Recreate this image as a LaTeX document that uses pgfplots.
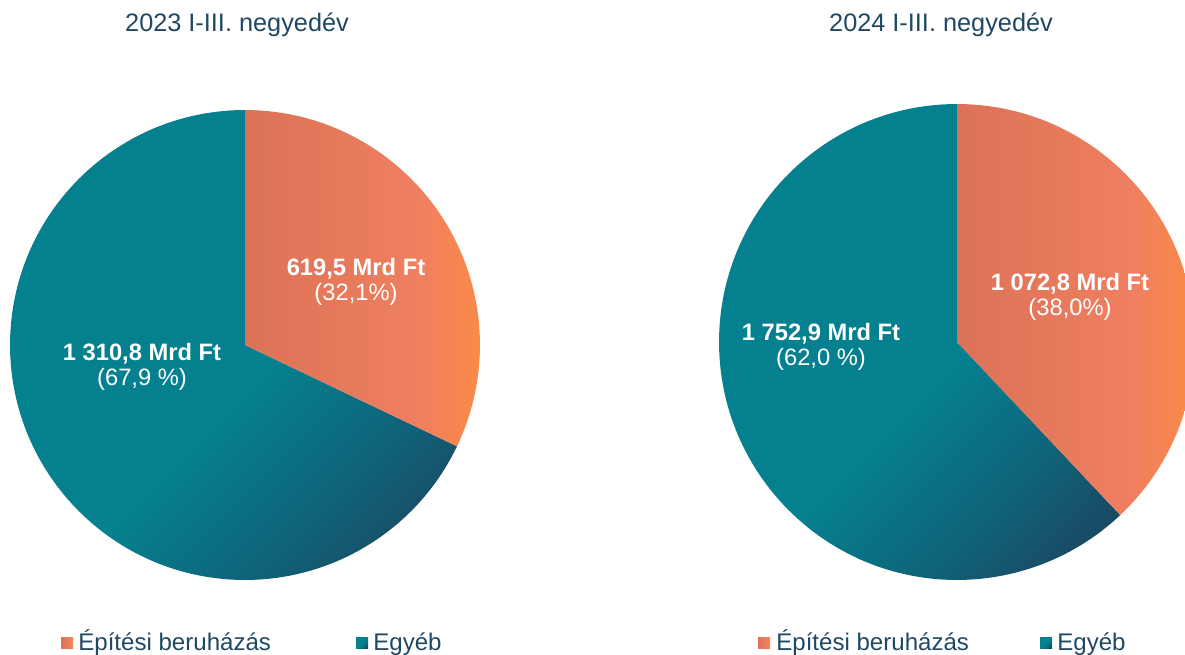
\documentclass[border=0pt]{standalone}
\usepackage{pgfplots}
\pgfplotsset{compat=1.18}
\usepackage{pgfplotstable}
\usepackage{fontspec}
\setmainfont{Liberation Sans}

\definecolor{txt}{HTML}{1F4863}
\definecolor{orA}{HTML}{DB7257}
\definecolor{orB}{HTML}{F07F60}
\definecolor{orC}{HTML}{FA8A48}
\definecolor{teA}{HTML}{05808F}
\definecolor{teB}{HTML}{0E667B}
\definecolor{teC}{HTML}{1B4862}

\pgfdeclarehorizontalshading{orsh}{100bp}{color(0bp)=(orA); color(25bp)=(orA); color(62bp)=(orB); color(75bp)=(orC); color(100bp)=(orC)}
\pgfdeclarehorizontalshading{tesh}{100bp}{color(0bp)=(teA); color(55bp)=(teA); color(68bp)=(teB); color(81bp)=(teC); color(100bp)=(teC)}

% Mrd Ft: építési beruházás / egyéb
\pgfplotstableread{
year build other
2023 619.5 1310.8
2024 1072.8 1752.9
}\piedata

\begin{document}
\begin{tikzpicture}
\pgfplotstablegetelem{0}{build}\of\piedata \let\bA\pgfplotsretval
\pgfplotstablegetelem{0}{other}\of\piedata \let\oA\pgfplotsretval
\pgfplotstablegetelem{1}{build}\of\piedata \let\bB\pgfplotsretval
\pgfplotstablegetelem{1}{other}\of\piedata \let\oB\pgfplotsretval
\pgfmathsetmacro\angA{90-360*(\bA/(\bA+\oA))}
\pgfmathsetmacro\angB{90-360*(\bB/(\bB+\oB))}
\pgfmathsetmacro\angAe{\angA+360}
\pgfmathsetmacro\angBe{\angB+360}
\tikzset{
  orfill/.style={shading=orsh},
  tefill/.style={shading=tesh, shading angle=-45},
}
\begin{axis}[
    x=0.02cm, y=0.02cm,
    xmin=0, xmax=1185, ymin=0, ymax=654,
    hide axis,
    clip=true,
]
% 2023
\shade[tefill]
  (axis cs:245,309) -- ++(0,4.7cm) arc[start angle=90, end angle=\angAe, radius=4.7cm] -- cycle;
\shade[orfill]
  (axis cs:245,309) -- ++(0,4.7cm) arc[start angle=90, end angle=\angA, radius=4.7cm] -- cycle;
% 2024
\shade[tefill]
  (axis cs:957,312) -- ++(0,4.76cm) arc[start angle=90, end angle=\angBe, radius=4.76cm] -- cycle;
\shade[orfill]
  (axis cs:957,312) -- ++(0,4.76cm) arc[start angle=90, end angle=\angB, radius=4.76cm] -- cycle;

% titles
\node[text=txt, font=\fontsize{14.4}{17}\selectfont] at (axis cs:237,629) {2023 I-III. negyedév};
\node[text=txt, font=\fontsize{14.4}{17}\selectfont] at (axis cs:941,629) {2024 I-III. negyedév};

% slice labels
\tikzset{lbl/.style={text=white, align=center, font=\fontsize{13.5}{14.2}\selectfont}}
\node[lbl] at (axis cs:356,372.5) {\textbf{619,5 Mrd Ft}\\(32,1\%)};
\node[lbl] at (axis cs:142,287.5) {\textbf{1 310,8 Mrd Ft}\\(67,9 \%)};
\node[lbl] at (axis cs:1070,357) {\textbf{1 072,8 Mrd Ft}\\(38,0\%)};
\node[lbl] at (axis cs:821,307) {\textbf{1 752,9 Mrd Ft}\\(62,0 \%)};

% legends
\tikzset{leg/.style={text=txt, anchor=base west, inner sep=0pt, font=\fontsize{13.7}{16}\selectfont}}
\shade[orfill] (axis cs:61,6) rectangle (axis cs:73,17);
\node[leg] at (axis cs:78,4) {Építési beruházás};
\shade[tefill] (axis cs:356,6) rectangle (axis cs:368,17);
\node[leg] at (axis cs:373,4) {Egyéb};
\shade[orfill] (axis cs:758,6) rectangle (axis cs:770,17);
\node[leg] at (axis cs:776,4) {Építési beruházás};
\shade[tefill] (axis cs:1040,6) rectangle (axis cs:1052,17);
\node[leg] at (axis cs:1057,4) {Egyéb};
\end{axis}
\pgfresetboundingbox
\path[use as bounding box] (current axis.south west) rectangle (current axis.north east);
\end{tikzpicture}
\end{document}
